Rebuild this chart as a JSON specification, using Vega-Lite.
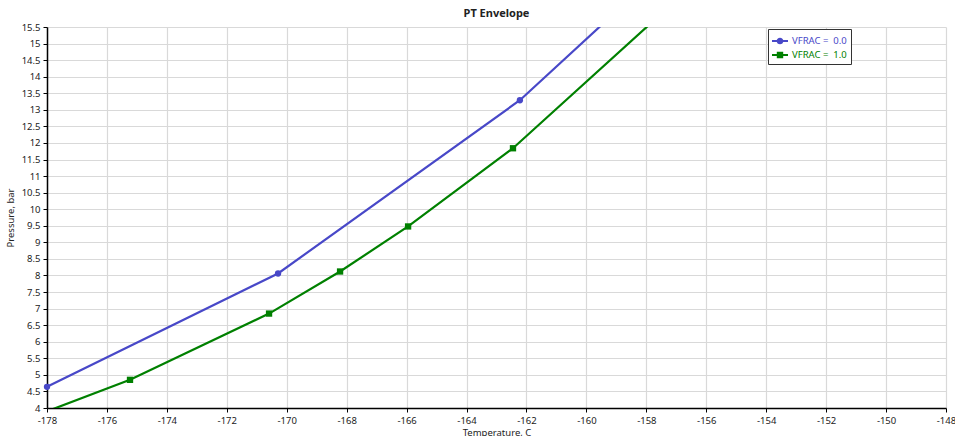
{
  "$schema": "https://vega.github.io/schema/vega-lite/v6.json",
  "width": 899,
  "height": 381,
  "autosize": {"type": "none"},
  "padding": {"left": 47, "top": 27, "right": 9, "bottom": 28},
  "background": "white",
  "title": {"text": "PT Envelope", "fontSize": 11, "fontWeight": "bold", "font": "Noto Sans", "anchor": "middle", "offset": 3, "color": "#222"},
  "config": {
    "font": "Noto Sans",
    "view": {"stroke": null},
    "legend": {"orient": "none", "legendX": 721, "legendY": 2},
    "axis": {
      "labelFont": "Noto Sans", "labelFontSize": 9.5, "labelColor": "#222",
      "titleFont": "Noto Sans", "titleFontSize": 9.5, "titleFontWeight": "normal", "titleColor": "#222",
      "domainColor": "#000", "domainWidth": 1.5, "tickColor": "#000", "tickSize": 4,
      "gridColor": "#d9d9d9", "gridWidth": 1.2, "labelOverlap": false, "labelFlush": false
    }
  },
  "datasets": {
    "curve": [
      {"T": -178.0, "P": 4.64, "series": "VFRAC =  0.0"},
      {"T": -170.29, "P": 8.06, "series": "VFRAC =  0.0"},
      {"T": -162.22, "P": 13.29, "series": "VFRAC =  0.0"},
      {"T": -159.0, "P": 15.97, "series": "VFRAC =  0.0"},
      {"T": -178.0, "P": 3.9, "series": "VFRAC =  1.0"},
      {"T": -175.23, "P": 4.85, "series": "VFRAC =  1.0"},
      {"T": -170.59, "P": 6.85, "series": "VFRAC =  1.0"},
      {"T": -168.22, "P": 8.12, "series": "VFRAC =  1.0"},
      {"T": -165.95, "P": 9.48, "series": "VFRAC =  1.0"},
      {"T": -162.45, "P": 11.84, "series": "VFRAC =  1.0"},
      {"T": -157.5, "P": 15.9, "series": "VFRAC =  1.0"}
    ],
    "markers": [
      {"T": -178.0, "P": 4.64, "series": "VFRAC =  0.0"},
      {"T": -170.29, "P": 8.06, "series": "VFRAC =  0.0"},
      {"T": -162.22, "P": 13.29, "series": "VFRAC =  0.0"},
      {"T": -175.23, "P": 4.85, "series": "VFRAC =  1.0"},
      {"T": -170.59, "P": 6.85, "series": "VFRAC =  1.0"},
      {"T": -168.22, "P": 8.12, "series": "VFRAC =  1.0"},
      {"T": -165.95, "P": 9.48, "series": "VFRAC =  1.0"},
      {"T": -162.45, "P": 11.84, "series": "VFRAC =  1.0"}
    ],
    "legendrows": []
  },
  "encoding": {
    "x": {"field": "T", "type": "quantitative",
      "scale": {"domain": [-178, -148], "nice": false, "zero": false},
      "axis": {"title": "Temperature, C", "values": [-178,-176,-174,-172,-170,-168,-166,-164,-162,-160,-158,-156,-154,-152,-150,-148], "labelExpr": "'' + datum.value", "labelPadding": 3, "titlePadding": 3}},
    "y": {"field": "P", "type": "quantitative",
      "scale": {"domain": [4, 15.5], "nice": false, "zero": false},
      "axis": {"title": "Pressure, bar", "values": [4,4.5,5,5.5,6,6.5,7,7.5,8,8.5,9,9.5,10,10.5,11,11.5,12,12.5,13,13.5,14,14.5,15,15.5], "labelExpr": "'' + datum.value", "labelPadding": 3, "titlePadding": 6}},
    "color": {"field": "series", "type": "nominal",
      "scale": {"domain": ["VFRAC =  0.0", "VFRAC =  1.0"], "range": ["#4848C8", "#008000"]}}
  },
  "layer": [
    {
      "data": {"name": "curve"},
      "mark": {"type": "line", "strokeWidth": 2.2, "clip": true},
      "encoding": {"color": {"field": "series", "type": "nominal", "legend": null}}
    },
    {
      "data": {"name": "markers"},
      "mark": {"type": "point", "filled": true, "opacity": 1, "size": 40},
      "encoding": {
        "color": {"field": "series", "type": "nominal", "legend": null},
        "shape": {"field": "series", "type": "nominal", "legend": null,
          "scale": {"domain": ["VFRAC =  0.0", "VFRAC =  1.0"], "range": ["circle", "square"]}}
      }
    },
    {
      "data": {"name": "legendrows"},
      "mark": {"type": "point", "filled": true, "opacity": 1},
      "encoding": {
        "color": {"field": "series", "type": "nominal",
          "legend": {
            "title": null, "orient": "none", "legendX": 721, "legendY": 2,
            "strokeColor": "#333", "fillColor": "white", "padding": 4,
            "symbolSize": 256, "symbolStrokeWidth": 0, "symbolOpacity": 1,
            "symbolFillColor": {"expr": "datum.value === 'VFRAC =  0.0' ? '#4848C8' : '#008000'"},
            "labelFont": "Noto Sans", "labelFontSize": 9.5, "rowPadding": 1,
            "labelExpr": "replace(datum.label, '=  ', '=\u00a0 ')",
            "labelColor": {"expr": "datum.value === 'VFRAC =  0.0' ? '#4848C8' : '#008000'"}
          }},
        "shape": {"field": "series", "type": "nominal",
          "legend": {
            "title": null, "orient": "none", "legendX": 721, "legendY": 2,
            "strokeColor": "#333", "fillColor": "white", "padding": 4,
            "symbolSize": 256, "symbolStrokeWidth": 0, "symbolOpacity": 1,
            "symbolFillColor": {"expr": "datum.value === 'VFRAC =  0.0' ? '#4848C8' : '#008000'"},
            "labelFont": "Noto Sans", "labelFontSize": 9.5, "rowPadding": 1,
            "labelExpr": "replace(datum.label, '=  ', '=\u00a0 ')",
            "labelColor": {"expr": "datum.value === 'VFRAC =  0.0' ? '#4848C8' : '#008000'"}
          },
          "scale": {"domain": ["VFRAC =  0.0", "VFRAC =  1.0"], "range": [
            "M-1,-0.13H-0.35V0.13H-1Z M0.35,-0.13H1V0.13H0.35Z M0.42,0A0.42,0.42 0 1,1 -0.42,0A0.42,0.42 0 1,1 0.42,0Z",
            "M-1,-0.13H-0.4V0.13H-1Z M0.4,-0.13H1V0.13H0.4Z M-0.4,-0.4H0.4V0.4H-0.4Z"
          ]}}
      }
    }
  ],
  "resolve": {"scale": {"shape": "independent"}}
}
